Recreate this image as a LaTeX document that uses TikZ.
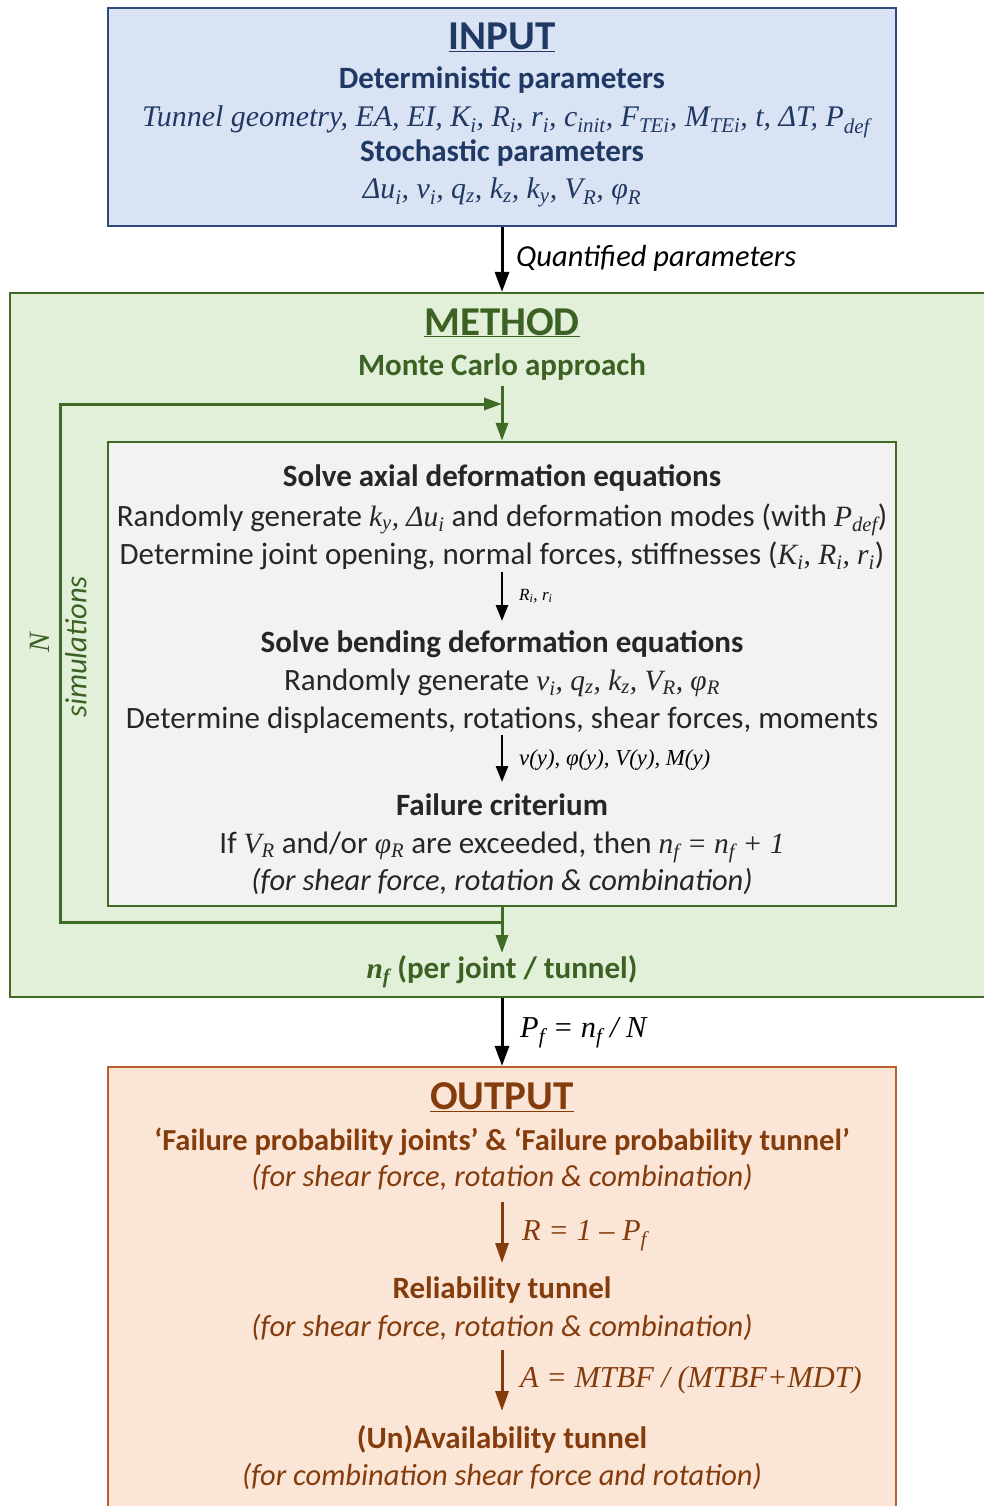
\documentclass[tikz,border=0pt]{standalone}
\usepackage{fontspec}
\setmainfont{Carlito}
\newfontfamily\mfont{Liberation Serif}[Scale=0.95]
\usetikzlibrary{arrows.meta}
\definecolor{inblue}{HTML}{DAE3F3}
\definecolor{inborder}{HTML}{2F4B7C}
\definecolor{intext}{HTML}{1F3864}
\definecolor{mgreen}{HTML}{E2F0D9}
\definecolor{mborder}{HTML}{3F6B27}
\definecolor{mtext}{HTML}{3B6123}
\definecolor{igray}{HTML}{F2F2F2}
\definecolor{itext}{HTML}{262626}
\definecolor{obg}{HTML}{FBE5D6}
\definecolor{oborder}{HTML}{B9602A}
\definecolor{otext}{HTML}{843C0C}
\newcommand\mi[1]{{\mfont\itshape #1}}
\newcommand\sbs[1]{\textsubscript{#1}}
\tikzset{
  bigbox/.style={draw, rectangle, line width=2.2pt, inner sep=0pt},
  txt/.style={anchor=base, inner sep=0pt, font=\fontsize{31}{36}\selectfont},
  itx/.style={anchor=base, inner sep=0pt, font=\fontsize{30.5}{36}\selectfont\itshape},
  hd/.style={anchor=base, inner sep=0pt, font=\fontsize{31}{36}\selectfont\bfseries},
  ttl/.style={anchor=base, inner sep=0pt, font=\fontsize{41}{48}\selectfont\bfseries},
  lab/.style={anchor=base west, inner sep=0pt, font=\fontsize{32}{36}\selectfont},
  slab/.style={anchor=base west, inner sep=0pt, font=\fontsize{18}{22}\selectfont},
  barr/.style={line width=3pt, -{Triangle[length=20pt,width=14pt]}},
  sarr/.style={line width=2.6pt, -{Triangle[length=16pt,width=12pt]}},
  garr/.style={draw=mborder, line width=3pt, -{Triangle[length=18pt,width=12pt,fill=mborder]}},
  oarr/.style={draw=otext, line width=3pt, -{Triangle[length=20pt,width=13pt,fill=otext]}},
}
\begin{document}
\begin{tikzpicture}[x=1pt,y=-1pt]
\useasboundingbox (0,0) rectangle (984,1506);
% boxes
\node[bigbox, fill=inblue, draw=inborder, minimum width=788pt, minimum height=218pt] (input) at (502,117) {};
\node[bigbox, fill=mgreen, draw=mborder, minimum width=980pt, minimum height=704pt] (method) at (500,645) {};
\node[bigbox, fill=igray, draw=mborder, minimum width=788pt, minimum height=464pt] (inner) at (502,674) {};
\node[bigbox, fill=obg, draw=oborder, minimum width=788pt, minimum height=453pt] (output) at (502,1293.5) {};

% INPUT texts
\begin{scope}[every node/.append style={text=intext}]
\node[ttl] (tin) at (502,50) {\underline{INPUT}};
\node[hd] (det) at (502,89) {Deterministic parameters};
\node[txt, font=\fontsize{31.5}{36}\selectfont] (detp) at (506,127) {\mi{Tunnel geometry, EA, EI, K\sbs{i}, R\sbs{i}, r\sbs{i}, c\sbs{init}, F\sbs{TEi}, M\sbs{TEi}, t, ΔT, P\sbs{def}}};
\node[hd] (sto) at (502,162) {Stochastic parameters};
\node[txt, font=\fontsize{31.5}{36}\selectfont] (stop) at (502,199) {\mi{Δu\sbs{i}, v\sbs{i}, q\sbs{z}, k\sbs{z}, k\sbs{y}, V\sbs{R}, φ\sbs{R}}};
\end{scope}

\draw[barr] (input.south) -- (input.south |- method.north);
\node[lab, font=\fontsize{30.5}{36}\selectfont\itshape] (qp) at (516,266) {Quantified parameters};

% METHOD texts
\begin{scope}[every node/.append style={text=mtext}]
\node[ttl] (tmeth) at (502,335) {\underline{METHOD}};
\node[hd] (mc) at (502,375) {Monte Carlo approach};
\node[hd] (nf) at (502,978) {\mi{n\sbs{f}} (per joint / tunnel)};
\node[rotate=90, inner sep=0pt, font=\fontsize{31}{36}\selectfont] (nsim) at (40,643) {\mi{N}};
\node[rotate=90, inner sep=0pt, font=\fontsize{30.5}{36}\selectfont\itshape] (sim) at (76,647) {simulations};
\end{scope}

% green loop
\coordinate (mcb) at (502,386);
\coordinate (lb) at (502,922);
\coordinate (ll) at (60,922);
\coordinate (lu) at (60,404);
\coordinate (lt) at (502,404);
\coordinate (nft) at (502,953);
\draw[garr] (mcb) -- (inner.north);
\draw[garr] (lb) -- (ll) -- (lu) -- (lt);
\draw[garr] (inner.south) -- (nft);

% inner texts
\begin{scope}[every node/.append style={text=itext}]
\node[hd] (ax) at (502,486) {Solve axial deformation equations};
\node[txt] (ax1) at (502,526) {Randomly generate \mi{k\sbs{y}, Δu\sbs{i}} and deformation modes (with \mi{P\sbs{def}})};
\node[txt] (ax2) at (502,564) {Determine joint opening, normal forces, stiffnesses (\mi{K\sbs{i}, R\sbs{i}, r\sbs{i}})};
\node[hd] (be) at (502,652) {Solve bending deformation equations};
\node[txt] (be1) at (502,690) {Randomly generate \mi{v\sbs{i}, q\sbs{z}, k\sbs{z}, V\sbs{R}, φ\sbs{R}}};
\node[txt] (be2) at (502,728) {Determine displacements, rotations, shear forces, moments};
\node[hd] (fc) at (502,815) {Failure criterium};
\node[txt] (fc1) at (502,853) {If \mi{V\sbs{R}} and/or \mi{φ\sbs{R}} are exceeded, then \mi{n\sbs{f} = n\sbs{f} + 1}};
\node[itx] (fc2) at (502,890) {(for shear force, rotation \& combination)};
\end{scope}
\coordinate (a1s) at (502,572);
\coordinate (a1e) at (502,621);
\coordinate (a2s) at (502,735);
\coordinate (a2e) at (502,782);
\draw[sarr] (a1s) -- (a1e);
\draw[sarr] (a2s) -- (a2e);
\node[slab] (l1) at (519,600) {\mi{R\sbs{i}, r\sbs{i}}};
\node[slab, font=\fontsize{24}{28}\selectfont] (l2) at (519,765) {\mi{v(y), φ(y), V(y), M(y)}};

% to output
\draw[barr] (input.south |- method.south) -- (input.south |- output.north);
\node[lab] (pf) at (520,1037) {\mi{P\sbs{f} = n\sbs{f} / N}};

% OUTPUT texts
\begin{scope}[every node/.append style={text=otext}]
\node[ttl] (tout) at (502,1109) {\underline{OUTPUT}};
\node[hd, font=\fontsize{30.5}{36}\selectfont\bfseries] (fp) at (502,1150) {‘Failure probability joints’ \& ‘Failure probability tunnel’};
\node[itx] (fp2) at (502,1186) {(for shear force, rotation \& combination)};
\node[lab] (rl) at (522,1240) {\mi{R = 1 – P\sbs{f}}};
\node[hd] (rel) at (502,1298) {Reliability tunnel};
\node[itx] (rel2) at (502,1336) {(for shear force, rotation \& combination)};
\node[lab] (al) at (520,1387) {\mi{A = MTBF / (MTBF+MDT)}};
\node[hd] (av) at (502,1448) {(Un)Availability tunnel};
\node[itx] (av2) at (502,1485) {(for combination shear force and rotation)};
\end{scope}
\coordinate (b1s) at (502,1202);
\coordinate (b1e) at (502,1263);
\coordinate (b2s) at (502,1350);
\coordinate (b2e) at (502,1411);
\draw[oarr] (b1s) -- (b1e);
\draw[oarr] (b2s) -- (b2e);
\end{tikzpicture}
\end{document}
